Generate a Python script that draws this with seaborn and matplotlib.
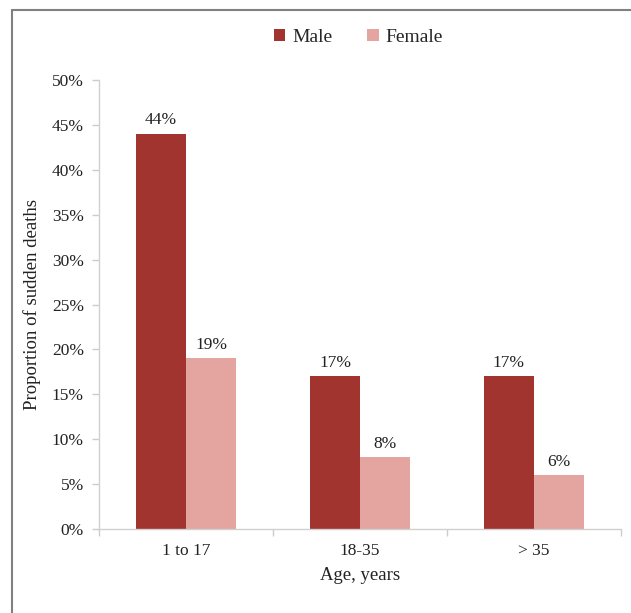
import matplotlib
matplotlib.use("Agg")
import matplotlib.pyplot as plt
from matplotlib.lines import Line2D
from matplotlib.patches import Patch
from matplotlib.ticker import FuncFormatter, FixedLocator
import seaborn as sns
import pandas as pd

# Data
age_groups = ["1 to 17", "18-35", "> 35"]
male_pct = [44, 17, 17]
female_pct = [19, 8, 6]
sexes = ["Male", "Female"]
colors = {"Male": "#A2342F", "Female": "#E4A4A0"}

rows = []
for g, m, f in zip(age_groups, male_pct, female_pct):
    rows.append({"age": g, "sex": "Male", "pct": m})
    rows.append({"age": g, "sex": "Female", "pct": f})
df = pd.DataFrame(rows)

sns.set_theme(style="white")
plt.rcParams["font.family"] = ["Liberation Serif", "DejaVu Serif"]

fig = plt.figure(figsize=(6.31, 6.13), dpi=100)
ax = fig.add_axes([0.157, 0.137, 0.827, 0.7325])

sns.barplot(data=df, x="age", y="pct", hue="sex", order=age_groups,
            hue_order=sexes, palette=colors, width=0.575, saturation=1,
            errorbar=None, legend=False, linewidth=0, ax=ax)

for cont in ax.containers:
    ax.bar_label(cont, labels=[f"{v:.0f}%" for v in cont.datavalues],
                 padding=4, fontsize=12.5, color="#222222")

ax.set_xlim(-0.5, 2.5)
ax.set_ylim(0, 50)
ax.set_yticks(range(0, 51, 5))
ax.yaxis.set_major_formatter(FuncFormatter(lambda v, _: f"{v:.0f}%"))
ax.tick_params(axis="y", labelsize=12.5, colors="#cccccc", labelcolor="#222222",
               length=5, width=1, direction="out", left=True, pad=6)

# category labels with boundary ticks
ax.xaxis.set_major_locator(FixedLocator([-0.5, 0.5, 1.5, 2.5]))
ax.xaxis.set_major_formatter(FuncFormatter(lambda v, _: ""))
ax.set_xticks([0, 1, 2], minor=True)
ax.set_xticklabels(age_groups, minor=True)
ax.tick_params(axis="x", which="major", colors="#cccccc", length=5, width=1,
               direction="out", bottom=True)
ax.tick_params(axis="x", which="minor", length=0, labelsize=12.5,
               labelcolor="#222222", pad=10)

for side in ["top", "right"]:
    ax.spines[side].set_visible(False)
for side in ["left", "bottom"]:
    ax.spines[side].set_color("#d0d0d0")
    ax.spines[side].set_linewidth(1)

ax.set_xlabel("Age, years", fontsize=13.5, color="#222222", labelpad=6)
ax.set_ylabel("Proportion of sudden deaths", fontsize=13.5, color="#222222",
              labelpad=8)

handles = [Patch(facecolor=colors[s], edgecolor="none") for s in sexes]
fig.legend(handles, sexes, loc="center", bbox_to_anchor=(0.568, 0.939),
           ncol=2, frameon=False, fontsize=14, handlelength=0.6,
           handleheight=0.6, handletextpad=0.35, columnspacing=1.8)

# page frame lines
fig.add_artist(Line2D([12 / 631, 1.0], [1 - 9.5 / 613, 1 - 9.5 / 613],
                      transform=fig.transFigure, color="#808080", lw=1.5))
fig.add_artist(Line2D([12 / 631, 12 / 631], [0, 1 - 9.5 / 613],
                      transform=fig.transFigure, color="#808080", lw=1.5))

fig.savefig("out.png", dpi=100)
